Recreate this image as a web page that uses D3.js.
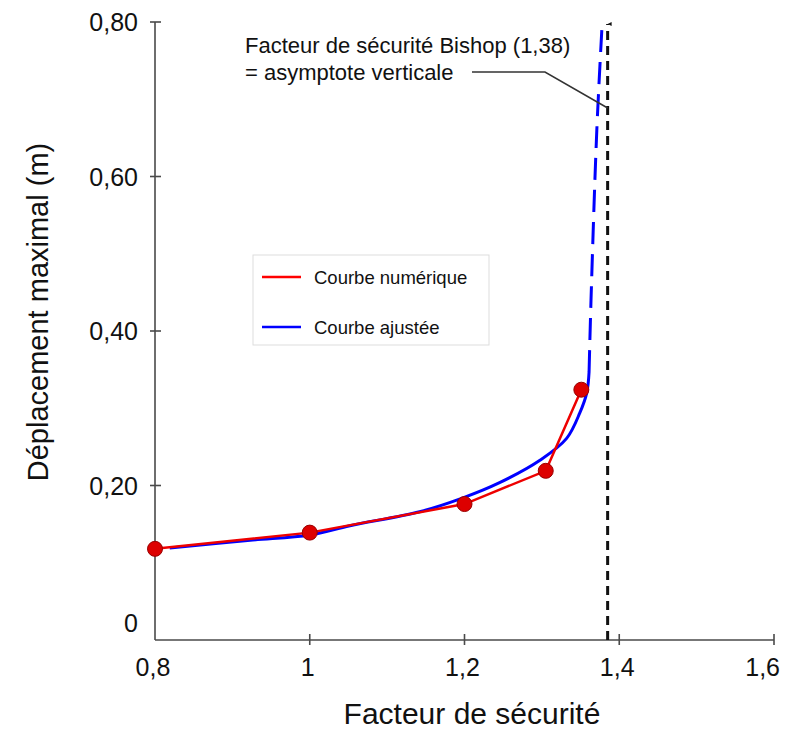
<!DOCTYPE html>
<html><head><meta charset="utf-8">
<script src="https://cdn.jsdelivr.net/npm/d3@7"></script>
<style>body{margin:0;background:#fff}svg{display:block}text{font-family:"Liberation Sans",Arial,sans-serif;fill:#111}</style>
</head><body><svg id="c" width="787" height="731"></svg>
<script>
const xTicks = [0.8, 1.0, 1.2, 1.4, 1.6];
const xTickLabels = ["0,8", "1", "1,2", "1,4", "1,6"];
const yTicks = [0, 0.2, 0.4, 0.6, 0.8];
const yTickLabels = ["0", "0,20", "0,40", "0,60", "0,80"];
const numFS = [0.8, 1.0, 1.2, 1.305, 1.351];
const numDisp = [0.118, 0.139, 0.176, 0.219, 0.324];
const fitFS = [0.819, 0.923, 1.0, 1.052, 1.142, 1.198, 1.246, 1.298, 1.332, 1.349, 1.358, 1.361];
const fitDisp = [0.119, 0.129, 0.136, 0.148, 0.166, 0.184, 0.204, 0.233, 0.261, 0.294, 0.320, 0.347];
const extFS = [1.361, 1.3635, 1.371, 1.3777];
const extDisp = [0.347, 0.44, 0.66, 0.794];
const bishopFS = 1.385;
const legendLabels = ["Courbe numérique", "Courbe ajustée"];
const annotLines = ["Facteur de sécurité Bishop (1,38)", "= asymptote verticale"];

const svg = d3.select("#c");
const x = d3.scaleLinear().domain([0.8, 1.6]).range([155, 774]);
const y = d3.scaleLinear().domain([0, 0.8]).range([640, 22]);

svg.append("defs").append("marker").attr("id","arr").attr("viewBox","0 0 10 10")
  .attr("refX",5).attr("refY",0).attr("markerWidth",4).attr("markerHeight",5)
  .attr("orient","auto").attr("markerUnits","userSpaceOnUse")
  .append("path").attr("d","M0,10 L5,0 L10,10 Z").attr("fill","#111");

// axes
const axCol = "#4a4a4a";
svg.append("line").attr("x1",x(0.8)).attr("x2",x(0.8)).attr("y1",y(0)).attr("y2",y(0.8)).attr("stroke",axCol).attr("stroke-width",1.6);
svg.append("line").attr("x1",x(0.8)).attr("x2",x(1.6)).attr("y1",y(0)).attr("y2",y(0)).attr("stroke",axCol).attr("stroke-width",1.6);
yTicks.forEach((v,i)=>{
  if (v>0) svg.append("line").attr("x1",x(0.8)-5).attr("x2",x(0.8)+6).attr("y1",y(v)).attr("y2",y(v)).attr("stroke",axCol).attr("stroke-width",1.6);
  svg.append("text").attr("x",x(0.8)-17).attr("y",y(v)+(v===0?-17:0)).attr("dy","0.36em")
    .attr("text-anchor","end").attr("font-size",25).text(yTickLabels[i]);
});
xTicks.forEach((v,i)=>{
  if (v>0.8) svg.append("line").attr("x1",x(v)).attr("x2",x(v)).attr("y1",y(0)-6).attr("y2",y(0)+5).attr("stroke",axCol).attr("stroke-width",1.6);
  const last = i===xTicks.length-1;
  svg.append("text").attr("x",last? x(v)+6 : x(v)-2).attr("y",y(0)+27).attr("dy","0.36em")
    .attr("text-anchor",last?"end":"middle").attr("font-size",25).text(xTickLabels[i]);
});
svg.append("text").attr("x",472).attr("y",713).attr("dy","0.36em").attr("text-anchor","middle").attr("font-size",30).text("Facteur de sécurité");
svg.append("text").attr("transform","translate(38,312) rotate(-90)").attr("dy","0.36em").attr("text-anchor","middle").attr("font-size",29).text("Déplacement maximal (m)");

// asymptote
svg.append("line").attr("x1",x(bishopFS)).attr("x2",x(bishopFS)).attr("y1",y(0)).attr("y2",y(0.8)+2)
  .attr("stroke","#111").attr("stroke-width",3).attr("stroke-dasharray","9,6").attr("marker-end","url(#arr)");

// fitted curve
const lineFn = d3.line().x(d=>x(d[0])).y(d=>y(d[1])).curve(d3.curveCatmullRom.alpha(0.5));
svg.append("path").datum(fitFS.map((v,i)=>[v,fitDisp[i]])).attr("d",lineFn)
  .attr("fill","none").attr("stroke","#0000ff").attr("stroke-width",3);
svg.append("path").datum(extFS.map((v,i)=>[v,extDisp[i]])).attr("d",lineFn)
  .attr("fill","none").attr("stroke","#0000ff").attr("stroke-width",3).attr("stroke-dasharray","22,10");

// numerical curve
svg.append("path").datum(numFS.map((v,i)=>[v,numDisp[i]])).attr("d",d3.line().x(d=>x(d[0])).y(d=>y(d[1])))
  .attr("fill","none").attr("stroke","#ee0000").attr("stroke-width",2.5);
svg.selectAll("circle.pt").data(numFS.map((v,i)=>[v,numDisp[i]])).join("circle")
  .attr("cx",d=>x(d[0])).attr("cy",d=>y(d[1])).attr("r",7.5)
  .attr("fill","#dd0000").attr("stroke","#990000").attr("stroke-width",1);

// annotation
svg.append("text").attr("x",245).attr("y",45).attr("dy","0.36em").attr("font-size",22).text(annotLines[0]);
svg.append("text").attr("x",245).attr("y",72).attr("dy","0.36em").attr("font-size",22).text(annotLines[1]);
svg.append("polyline").attr("points",`472,72 545,72 ${x(bishopFS)},108`).attr("fill","none").attr("stroke","#333").attr("stroke-width",1.5);

// legend
const lg = svg.append("g");
lg.append("rect").attr("x",253).attr("y",255).attr("width",236).attr("height",90).attr("fill","#fff").attr("stroke","#ddd").attr("stroke-width",1);
const lcols = ["#ff0000","#0000ff"];
legendLabels.forEach((t,i)=>{
  const yy = 277 + i*50;
  lg.append("line").attr("x1",262).attr("x2",301).attr("y1",yy).attr("y2",yy).attr("stroke",lcols[i]).attr("stroke-width",2.5);
  lg.append("text").attr("x",314).attr("y",yy).attr("dy","0.36em").attr("font-size",18.5).text(t);
});
</script></body></html>
